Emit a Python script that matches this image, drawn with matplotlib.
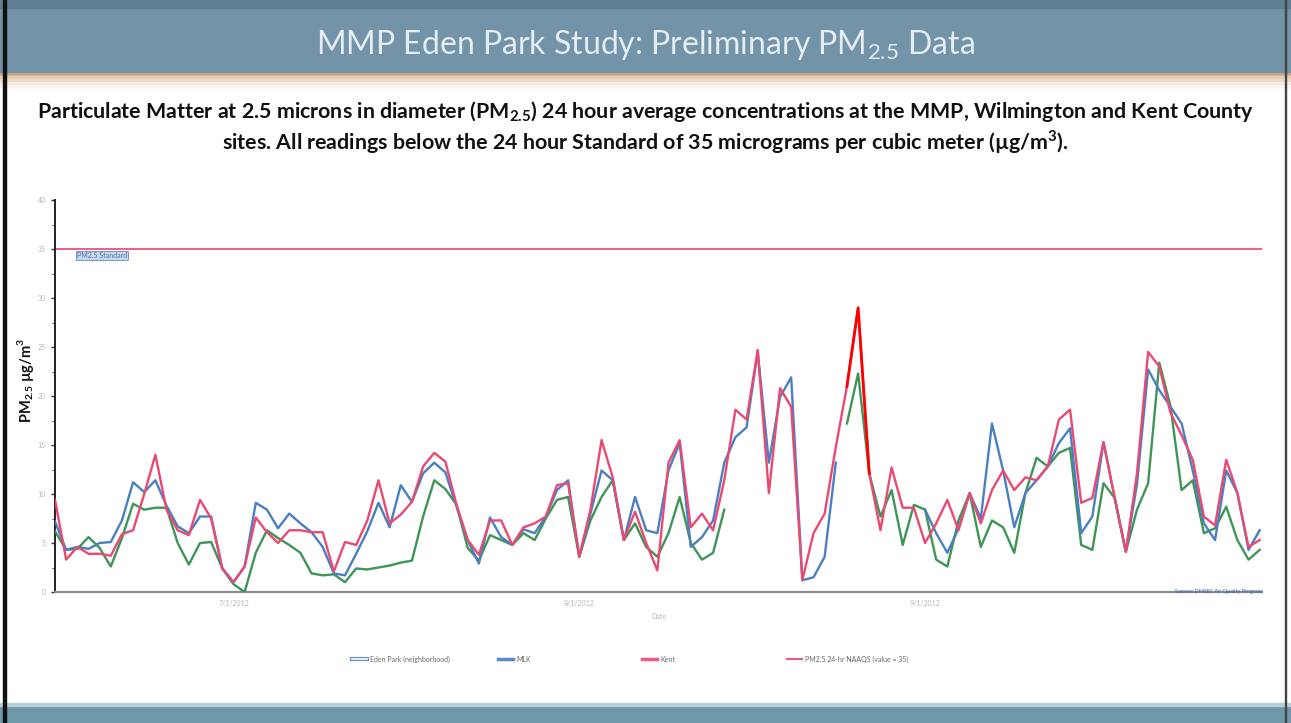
"""
PM2.5 24 hour averages, MMP Eden Park study slide
"""

import numpy as np
import pandas as pd
import matplotlib
matplotlib.use("Agg")
import matplotlib.pyplot as plt
import matplotlib.dates as mdates
from matplotlib.patches import Rectangle
from matplotlib.lines import Line2D
import matplotlib.patheffects as pe

plt.rcParams["font.family"] = ["Lato", "DejaVu Sans"]
plt.rcParams["mathtext.fontset"] = "custom"
plt.rcParams["mathtext.rm"] = "Lato"
plt.rcParams["mathtext.bf"] = "Lato:bold"

# daily values, ug/m3
start_date = "2012-06-15"
red_vals = [9.4, 3.3, 4.6, 3.9, 3.9, 3.7, 5.9, 6.3, 10.0, 14.0,
            8.4, 6.3, 5.8, 9.4, 7.5, 2.4, 1.0, 2.6, 7.6, 6.1,
            5.0, 6.3, 6.3, 6.1, 6.1, 2.1, 5.1, 4.8, 7.3, 11.4,
            7.0, 7.9, 9.2, 12.8, 14.2, 13.3, 8.9, 5.3, 3.8, 7.3,
            7.3, 4.8, 6.6, 7.0, 7.7, 10.9, 11.1, 3.6, 8.4, 15.5,
            11.7, 5.3, 8.2, 5.0, 2.2, 13.2, 15.5, 6.6, 8.0, 6.3,
            11.4, 18.6, 17.6, 24.7, 10.1, 20.8, 18.9, 1.2, 6.0, 8.0,
            14.8, 21.0, 29.0, 12.1, 6.3, 12.7, 8.6, 8.6, 5.0, 7.0,
            9.4, 6.3, 10.1, 7.0, 10.4, 12.4, 10.4, 11.7, 11.4, 12.8,
            17.6, 18.6, 9.1, 9.6, 15.3, 9.6, 4.1, 12.1, 24.5, 23.0,
            18.3, 16.0, 13.5, 7.7, 6.8, 13.5, 10.1, 4.6, 5.3]
blue_vals = [7.2, 4.3, 4.6, 4.4, 5.0, 5.1, 7.3, 11.2, 10.2, 11.4,
             8.8, 6.7, 6.0, 7.7, 7.7, 2.4, 1.0, 2.6, 9.1, 8.4,
             6.5, 8.0, 7.0, 6.1, 4.6, 1.9, 1.7, 3.9, 6.2, 9.1,
             6.6, 10.9, 9.2, 12.1, 13.2, 12.2, 8.7, 5.3, 2.9, 7.6,
             5.6, 4.8, 6.4, 6.0, 7.7, 10.4, 11.4, 3.6, 8.0, 12.4,
             11.4, 5.3, 9.7, 6.3, 6.0, 12.4, 15.2, 4.6, 5.6, 7.3,
             13.2, 15.8, 16.8, 24.5, 13.2, 19.9, 21.9, 1.2, 1.5, 3.6,
             13.2, np.nan, np.nan, np.nan, np.nan, np.nan, np.nan, np.nan, 8.4, 6.0,
             4.0, 6.5, 10.1, 7.5, 17.2, 12.4, 6.6, 10.1, 11.4, 12.8,
             15.2, 16.7, 6.0, 7.7, 15.3, 9.6, 4.1, 11.0, 22.7, 20.6,
             18.9, 17.2, 12.4, 7.0, 5.3, 12.4, 10.1, 4.3, 6.3]
green_vals = [6.2, 4.3, 4.4, 5.6, 4.5, 2.6, 5.5, 9.0, 8.4, 8.6,
              8.6, 5.0, 2.8, 5.0, 5.1, 2.4, 0.8, 0.0, 4.0, 6.3,
              5.5, 4.8, 4.0, 1.9, 1.7, 1.8, 1.0, 2.4, 2.3, 2.5,
              2.7, 3.0, 3.2, 7.7, 11.4, 10.5, 8.9, 4.5, 3.2, 5.8,
              5.3, 4.8, 6.0, 5.3, 7.5, 9.4, 9.7, 3.6, 7.3, 9.7,
              11.4, 5.3, 7.0, 4.6, 3.6, 6.0, 9.7, 5.0, 3.3, 4.0,
              8.4, np.nan, np.nan, np.nan, np.nan, np.nan, np.nan, np.nan, np.nan, np.nan,
              np.nan, 17.2, 22.3, 12.1, 7.7, 10.4, 4.8, 8.9, 8.4, 3.3,
              2.6, 7.3, 10.1, 4.6, 7.3, 6.6, 4.0, 10.1, 13.7, 12.8,
              14.2, 14.7, 4.8, 4.3, 11.1, 9.6, 4.1, 8.4, 11.1, 23.4,
              19.0, 10.4, 11.4, 6.0, 6.5, 8.7, 5.3, 3.3, 4.3]
standard = 35
y_ticks = [0, 5, 10, 15, 20, 25, 30, 35, 40]
x_ticks = ["2012-07-01", "2012-08-01", "2012-09-01"]
legend_labels = ["Eden Park (neighborhood)", "MLK", "Kent",
                 "PM2.5 24-hr NAAQS (value = 35)"]

dates = pd.date_range(start_date, periods=len(red_vals), freq="D")

fig = plt.figure(figsize=(12.91, 7.23), dpi=100)
W, H = 1291, 723


def fy(py):
    return 1 - py / H


# slide background pieces
fig.patches.append(Rectangle((0, fy(74)), 1, 74 / H, transform=fig.transFigure,
                             color="#7393a8", zorder=0))
fig.patches.append(Rectangle((0, fy(8)), 1, 8 / H, transform=fig.transFigure,
                             color="#5f7f94", zorder=0))
for i, a in enumerate([0.8, 0.6, 0.4, 0.25, 0.12, 0.05]):
    fig.patches.append(Rectangle((0, fy(76 + 3 * i)), 1, 3 / H,
                                 transform=fig.transFigure,
                                 color="#d4a87c", alpha=a, lw=0, zorder=0))
fig.patches.append(Rectangle((0, 0), 1, 17 / H, transform=fig.transFigure,
                             color="#6e97a8", zorder=0))
fig.patches.append(Rectangle((0, 17 / H), 1, 3 / H, transform=fig.transFigure,
                             color="#b9d0da", zorder=0))
fig.patches.append(Rectangle((3 / W, 0), 3 / W, 1, transform=fig.transFigure,
                             color="#111111", zorder=1))
fig.patches.append(Rectangle((1285 / W, 0), 1 / W, 1, transform=fig.transFigure,
                             color="#444444", zorder=1))

fig.text(0.5, fy(45), "MMP Eden Park Study: Preliminary PM$_{2.5}$ Data",
         ha="center", va="center", fontsize=23, color="#e3edf2")
fig.text(0.5, fy(112),
         "Particulate Matter at 2.5 microns in diameter (PM$_{\\mathbf{2.5}}$) 24 hour "
         "average concentrations at the MMP, Wilmington and Kent County",
         ha="center", va="center", fontsize=15.4, fontweight="bold", color="#111111")
fig.text(0.5, fy(142),
         "sites. All readings below the 24 hour Standard of 35 micrograms per "
         "cubic meter (\u00b5g/m$^{\\mathbf{3}}$).",
         ha="center", va="center", fontsize=15.4, fontweight="bold", color="#111111")

ax = fig.add_axes([55 / W, fy(592), (1262 - 55) / W, (592 - 200) / H])
ax.patch.set_alpha(0)

ax.plot(dates, green_vals, color="#3f9458", lw=1.7, zorder=3)
ax.plot(dates, blue_vals, color="#4a7fc1", lw=1.7, zorder=4)
ax.plot(dates, red_vals, color="#e84a72", lw=1.7, zorder=5)
ax.plot(dates[71:74], red_vals[71:74], color="#ff0000", lw=2.0, zorder=6)
ax.axhline(standard, color="#f0507a", lw=1.3, zorder=2)

ax.text(dates[2], standard - 0.3, "PM2.5 Standard", fontsize=5, color="#4d74a8",
        va="top", ha="left",
        bbox=dict(boxstyle="square,pad=0.15", fc="#cbdaec", ec="#7d9ccb", lw=0.8))

ax.set_xlim(dates[0], dates[-1] + pd.Timedelta(hours=5))
ax.set_ylim(0, 40)
ax.set_yticks(y_ticks)
ax.yaxis.set_minor_locator(plt.MultipleLocator(2.5))
ax.tick_params(axis="y", labelsize=5, labelcolor="#b5b5b5", length=3, width=1,
               color="#333333")
ax.tick_params(axis="y", which="minor", length=2, color="#333333")
ax.set_xticks(pd.to_datetime(x_ticks))
ax.set_xticklabels([f"{d.month}/{d.day}/{d.year}" for d in pd.to_datetime(x_ticks)])
ax.tick_params(axis="x", labelsize=5, labelcolor="#b5b5b5", length=0, pad=6)
for s in ["top", "right"]:
    ax.spines[s].set_visible(False)
ax.spines["left"].set_color("#222222")
ax.spines["left"].set_linewidth(1.4)
ax.spines["bottom"].set_color("#8a8a8a")
ax.spines["bottom"].set_linewidth(1.6)
ax.set_xlabel("Date", fontsize=5, color="#b5b5b5", labelpad=4)
ax.text(1.0, 0.0, "Source: DNREC Air Quality Program", transform=ax.transAxes,
        fontsize=4, color="#3a62b0", ha="right", va="center")

fig.text(25 / W, fy(380), "PM$_{\\mathbf{2.5}}$ \u00b5g/m$^{\\mathbf{3}}$",
         rotation=90, ha="center", va="center", fontsize=10.5,
         fontweight="bold", color="#111111")

# legend, four evenly spaced entries
handles = [
    Line2D([], [], color="white", lw=1.2,
           path_effects=[pe.Stroke(linewidth=3, foreground="#6f8fbf"), pe.Normal()]),
    Line2D([], [], color="#5a8acb", lw=2.5),
    Line2D([], [], color="#ee5a80", lw=2.5),
    Line2D([], [], color="#ee5a80", lw=1.5),
]
starts = [352, 498, 642, 787]
for i, (h, lab, sx) in enumerate(zip(handles, legend_labels, starts)):
    lg = ax.legend(handles=[h], labels=[lab], loc="center left",
                   bbox_to_anchor=(sx / W, fy(659)), bbox_transform=fig.transFigure,
                   frameon=False, fontsize=5, handlelength=2.2, handletextpad=0.4,
                   labelcolor="#666666", borderpad=0, borderaxespad=0)
    if i < len(handles) - 1:
        ax.add_artist(lg)

fig.savefig("out.png", dpi=100)
